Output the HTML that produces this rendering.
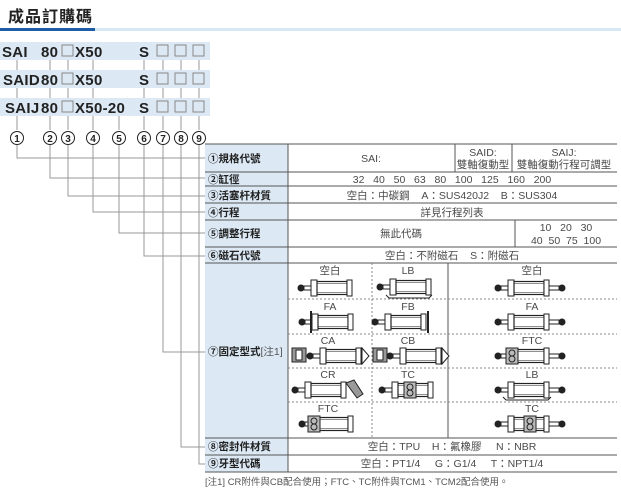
<!DOCTYPE html>
<html><head><meta charset="utf-8"><style>
html,body{margin:0;padding:0;background:#fff;}
svg{display:block;}
text{font-family:"Liberation Sans","Noto Sans CJK TC",sans-serif;}
.h{font-weight:bold;font-size:10.5px;fill:#222;}
.v{font-size:10.5px;fill:#4a4a4a;}
.c{font-weight:bold;font-size:15px;fill:#222;letter-spacing:0.3px;}
</style></head><body>
<svg width="621" height="495" viewBox="0 0 621 495" xmlns="http://www.w3.org/2000/svg">
<defs>
<g id="cyl">
<circle cx="-30" cy="0" r="3.5" fill="#222"/>
<rect x="-27" y="-2" width="7" height="4" fill="#fff" stroke="#222" stroke-width="1"/>
<rect x="-20" y="-8" width="6" height="16" fill="#fff" stroke="#222" stroke-width="1"/>
<rect x="-14" y="-6.5" width="30" height="13" fill="#fff" stroke="#222" stroke-width="1.2"/>
<line x1="-14" y1="-4.5" x2="16" y2="-4.5" stroke="#222" stroke-width="0.6"/>
<line x1="-14" y1="4.5" x2="16" y2="4.5" stroke="#222" stroke-width="0.6"/>
<rect x="16" y="-8" width="5" height="16" fill="#fff" stroke="#222" stroke-width="1"/>
</g>
<g id="cyl2">
<use href="#cyl"/>
<rect x="21" y="-2" width="10" height="4" fill="#fff" stroke="#222" stroke-width="1"/>
<circle cx="34" cy="0" r="3.5" fill="#222"/>
</g>
<g id="tc">
<rect x="-6" y="-8" width="12" height="16" fill="#bbb" stroke="#222"/>
<circle cx="0" cy="-3" r="3" fill="none" stroke="#222"/>
<circle cx="0" cy="3" r="3" fill="none" stroke="#222"/>
</g>
</defs>

<text x="8" y="22" style="font-weight:bold;font-size:16px;fill:#222;letter-spacing:1px">成品訂購碼</text>
<rect x="0" y="28" width="95" height="3" fill="#1e5ca8"/>
<rect x="95" y="28" width="526" height="3" fill="#d6e7f5"/>

<rect x="0" y="42" width="210" height="18" fill="#dce9f5"/>
<rect x="0" y="70" width="210" height="18" fill="#dce9f5"/>
<rect x="0" y="98" width="210" height="18" fill="#dce9f5"/>
<g stroke="#999" stroke-width="1">
<line x1="17" y1="60" x2="17" y2="70"/><line x1="17" y1="88" x2="17" y2="98"/><line x1="17" y1="116" x2="17" y2="130"/>
<line x1="50" y1="60" x2="50" y2="70"/><line x1="50" y1="88" x2="50" y2="98"/><line x1="50" y1="116" x2="50" y2="130"/>
<line x1="68" y1="60" x2="68" y2="70"/><line x1="68" y1="88" x2="68" y2="98"/><line x1="68" y1="116" x2="68" y2="130"/>
<line x1="93" y1="60" x2="93" y2="70"/><line x1="93" y1="88" x2="93" y2="98"/><line x1="93" y1="116" x2="93" y2="130"/>
<line x1="119" y1="116" x2="119" y2="130"/>
<line x1="144" y1="60" x2="144" y2="70"/><line x1="144" y1="88" x2="144" y2="98"/><line x1="144" y1="116" x2="144" y2="130"/>
<line x1="163" y1="60" x2="163" y2="70"/><line x1="163" y1="88" x2="163" y2="98"/><line x1="163" y1="116" x2="163" y2="130"/>
<line x1="181" y1="60" x2="181" y2="70"/><line x1="181" y1="88" x2="181" y2="98"/><line x1="181" y1="116" x2="181" y2="130"/>
<line x1="199" y1="60" x2="199" y2="70"/><line x1="199" y1="88" x2="199" y2="98"/><line x1="199" y1="116" x2="199" y2="130"/>
</g>
<text class="c" x="2" y="57">SAI</text><text class="c" x="41" y="57">80</text><text class="c" x="75" y="57">X50</text><text class="c" x="139" y="57">S</text>
<text class="c" x="3" y="85">SAID</text><text class="c" x="41" y="85">80</text><text class="c" x="75" y="85">X50</text><text class="c" x="139" y="85">S</text>
<text class="c" x="5" y="113">SAIJ</text><text class="c" x="41" y="113">80</text><text class="c" x="75" y="113">X50-20</text><text class="c" x="139" y="113">S</text>
<g fill="none" stroke="#888" stroke-width="1">
<rect x="62" y="45" width="11" height="11"/><rect x="157" y="45" width="11" height="11"/><rect x="175" y="45" width="11" height="11"/><rect x="193" y="45" width="11" height="11"/>
<rect x="62" y="73" width="11" height="11"/><rect x="157" y="73" width="11" height="11"/><rect x="175" y="73" width="11" height="11"/><rect x="193" y="73" width="11" height="11"/>
<rect x="62" y="101" width="11" height="11"/><rect x="157" y="101" width="11" height="11"/><rect x="175" y="101" width="11" height="11"/><rect x="193" y="101" width="11" height="11"/>
</g>
<g fill="#fff" stroke="#222" stroke-width="1">
<circle cx="17" cy="138" r="6.5"/><circle cx="50" cy="138" r="6.5"/><circle cx="68" cy="138" r="6.5"/><circle cx="93" cy="138" r="6.5"/><circle cx="119" cy="138" r="6.5"/><circle cx="144" cy="138" r="6.5"/><circle cx="163" cy="138" r="6.5"/><circle cx="181" cy="138" r="6.5"/><circle cx="199" cy="138" r="6.5"/>
</g>
<g style="font-weight:bold;font-size:10px;fill:#222" text-anchor="middle">
<text x="17" y="142">1</text><text x="50" y="142">2</text><text x="68" y="142">3</text><text x="93" y="142">4</text><text x="119" y="142">5</text><text x="144" y="142">6</text><text x="163" y="142">7</text><text x="181" y="142">8</text><text x="199" y="142">9</text>
</g>
<g fill="none" stroke="#999" stroke-width="1">
<polyline points="17,145 17,158 205,158"/>
<polyline points="50,145 50,178 205,178"/>
<polyline points="68,145 68,196 205,196"/>
<polyline points="93,145 93,212 205,212"/>
<polyline points="119,145 119,233 205,233"/>
<polyline points="144,145 144,256 205,256"/>
<polyline points="163,145 163,352 205,352"/>
<polyline points="181,145 181,447 205,447"/>
<polyline points="199,145 199,464 205,464"/>
<line x1="205" y1="144" x2="219" y2="144"/>
</g>

<rect x="205" y="144" width="83" height="328" fill="#dce9f5"/>
<g stroke="#555" stroke-width="1">
<line x1="205" y1="144" x2="617" y2="144"/>
<line x1="205" y1="172" x2="617" y2="172"/>
<line x1="205" y1="186" x2="617" y2="186"/>
<line x1="205" y1="203" x2="617" y2="203"/>
<line x1="205" y1="220" x2="617" y2="220"/>
<line x1="205" y1="247" x2="617" y2="247"/>
<line x1="205" y1="263" x2="617" y2="263"/>
<line x1="205" y1="438" x2="617" y2="438"/>
<line x1="205" y1="455" x2="617" y2="455"/>
<line x1="205" y1="472" x2="617" y2="472"/>
<line x1="288" y1="144" x2="288" y2="472"/>
<line x1="455" y1="144" x2="455" y2="172"/>
<line x1="512" y1="144" x2="512" y2="172"/>
<line x1="515" y1="220" x2="515" y2="247"/>
<line x1="448" y1="263" x2="448" y2="438"/>
</g>
<g stroke="#888" stroke-width="1" stroke-dasharray="2,2">
<line x1="372" y1="263" x2="372" y2="438"/>
<line x1="288" y1="299" x2="617" y2="299"/>
<line x1="288" y1="334" x2="617" y2="334"/>
<line x1="288" y1="368" x2="617" y2="368"/>
<line x1="288" y1="402" x2="617" y2="402"/>
</g>
<text class="h" x="208" y="162">①規格代號</text>
<text class="h" x="208" y="183">②缸徑</text>
<text class="h" x="208" y="199">③活塞杆材質</text>
<text class="h" x="208" y="216">④行程</text>
<text class="h" x="208" y="237">⑤調整行程</text>
<text class="h" x="208" y="259">⑥磁石代號</text>
<text class="h" x="208" y="355">⑦固定型式<tspan style="font-weight:normal;fill:#555">[注1]</tspan></text>
<text class="h" x="208" y="450">⑧密封件材質</text>
<text class="h" x="208" y="467">⑨牙型代碼</text>

<g text-anchor="middle">
<text class="v" x="371" y="162">SAI:</text>
<text class="v" x="483" y="156">SAID:</text><text class="v" x="483" y="168">雙軸復動型</text>
<text class="v" x="564" y="156">SAIJ:</text><text class="v" x="564" y="168">雙軸復動行程可調型</text>
<text class="v" x="452" y="183" xml:space="preserve">32   40   50   63   80   100   125   160   200</text>
<text class="v" x="452" y="199" xml:space="preserve">空白：中碳鋼    A：SUS420J2    B：SUS304</text>
<text class="v" x="452" y="216">詳見行程列表</text>
<text class="v" x="401" y="237">無此代碼</text>
<text class="v" x="566" y="231" xml:space="preserve">10   20   30</text>
<text class="v" x="566" y="244" xml:space="preserve">40  50  75  100</text>
<text class="v" x="452" y="259" xml:space="preserve">空白：不附磁石    S：附磁石</text>
<text class="v" x="452" y="450" xml:space="preserve">空白：TPU    H：氟橡膠     N：NBR</text>
<text class="v" x="452" y="467" xml:space="preserve">空白：PT1/4     G：G1/4     T：NPT1/4</text>
<text class="v" x="330" y="274">空白</text><text class="v" x="408" y="274">LB</text><text class="v" x="532" y="274">空白</text>
<text class="v" x="330" y="310">FA</text><text class="v" x="408" y="310">FB</text><text class="v" x="532" y="310">FA</text>
<text class="v" x="328" y="344">CA</text><text class="v" x="408" y="344">CB</text><text class="v" x="532" y="344">FTC</text>
<text class="v" x="328" y="378">CR</text><text class="v" x="408" y="378">TC</text><text class="v" x="532" y="378">LB</text>
<text class="v" x="328" y="412">FTC</text><text class="v" x="532" y="412">TC</text>
</g>
<use href="#cyl" x="331" y="288"/>
<use href="#cyl" x="410" y="287"/>
<path d="M386,295 l3,3 h40 l3,-3" fill="none" stroke="#222"/>
<use href="#cyl2" x="528" y="288"/>
<use href="#cyl" x="332" y="322"/>
<line x1="311" y1="311" x2="311" y2="333" stroke="#222" stroke-width="2"/>
<use href="#cyl" x="405" y="322"/>
<line x1="428" y1="311" x2="428" y2="333" stroke="#222" stroke-width="2"/>
<use href="#cyl2" x="528" y="322"/>
<rect x="292" y="348" width="14" height="14" fill="#999" stroke="#222"/><rect x="296" y="350" width="6" height="10" fill="#fff" stroke="#222"/>
<use href="#cyl" x="340" y="356"/>
<path d="M362,348 l7,8 l-7,8z" fill="#fff" stroke="#222"/>
<rect x="373" y="348" width="14" height="14" fill="#999" stroke="#222"/><rect x="377" y="350" width="6" height="10" fill="#fff" stroke="#222"/>
<use href="#cyl" x="420" y="356"/>
<path d="M442,348 l7,8 l-7,8z" fill="#fff" stroke="#222"/>
<use href="#cyl2" x="528" y="356"/>
<use href="#tc" x="512" y="356"/>
<use href="#cyl" x="325" y="390"/>
<path d="M346,383 l8,-3 l9,14 l-6,4z" fill="#999" stroke="#222"/>
<use href="#cyl" x="412" y="390"/>
<use href="#tc" x="410" y="390"/>
<use href="#cyl2" x="528" y="390"/>
<path d="M503,397 l3,3 h42 l3,-3" fill="none" stroke="#222"/>
<use href="#cyl" x="332" y="424"/>
<use href="#tc" x="314" y="424"/>
<use href="#cyl2" x="528" y="424"/>
<use href="#tc" x="530" y="424"/>

<text x="205" y="485" style="font-size:9.5px;fill:#555">[注1] CR附件與CB配合使用；FTC、TC附件與TCM1、TCM2配合使用。</text>
</svg>
</body></html>
